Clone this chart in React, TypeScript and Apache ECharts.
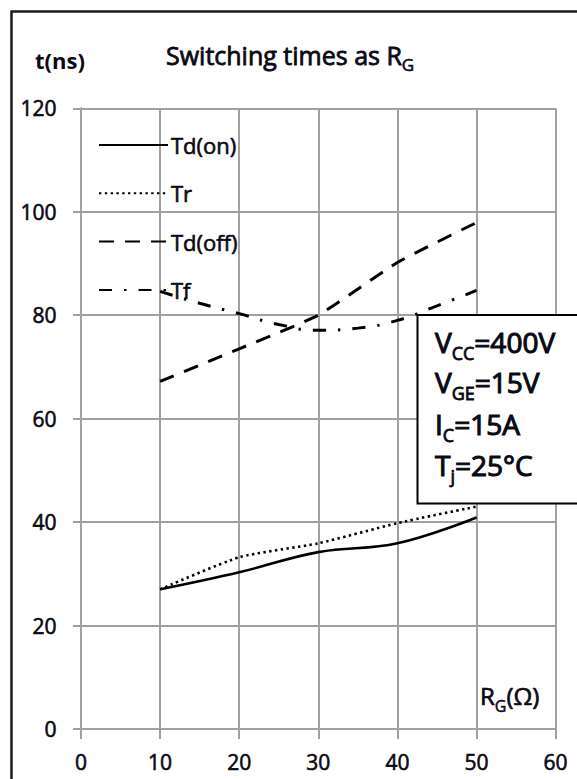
import React, { useEffect, useRef } from "react";
import * as echarts from "echarts";

// ---- data ----
const xTicks = [0, 10, 20, 30, 40, 50, 60];
const yTicks = [0, 20, 40, 60, 80, 100, 120];

const rgMain = [10, 20, 30, 40, 50];
const tdOnValues = [27, 30.3, 34.2, 35.9, 40.9];
const trValues = [27, 33.2, 35.9, 39.8, 43.0];
const tdOffValues = [67.2, 73.5, 80.0, 90.2, 97.9];

const rgTf = [10, 15, 20, 25, 30, 35, 40, 45, 50];
const tfValues = [84.6, 82.3, 80.3, 78.2, 77.1, 77.5, 79.0, 81.8, 84.8];

const seriesNames = ["Td(on)", "Tr", "Td(off)", "Tf"];
const conditionLines = [
  ["V", "CC", "=400V"],
  ["V", "GE", "=15V"],
  ["I", "C", "=15A"],
  ["T", "j", "=25°C"],
];

const FONT = '"Open Sans", "Noto Sans", sans-serif';
const INK = "#0a0a14";
const GRID = "#a0a0a0";
const HALO = 0.6;

function pairs(xs: number[], ys: number[]) {
  return xs.map((x, i) => [x, ys[i]]);
}

export default function App() {
  const ref = useRef<HTMLDivElement>(null);

  useEffect(() => {
    if (!ref.current) return;
    const chart = echarts.init(ref.current, null, { renderer: "svg" });

    const richMain = (size: number, lh: number, weight: any, halo: number) => {
      const s: any = { fontSize: size, fontFamily: FONT, fontWeight: weight, lineHeight: lh, fill: INK };
      if (halo > 0) {
        s.stroke = INK;
        s.lineWidth = halo;
      }
      return s;
    };
    const richSub = (size: number, lh: number, weight: any, halo: number) => {
      const s = richMain(size, lh, weight, halo);
      s.verticalAlign = "bottom";
      return s;
    };

    const condYs = [341.8, 381.8, 424, 465];

    const labelStyle = {
      fontSize: 21,
      fontFamily: FONT,
      color: INK,
      textBorderColor: INK,
      textBorderWidth: HALO,
    };

    const option: any = {
      animation: false,
      backgroundColor: "#fff",
      grid: { left: 81, top: 108.3, width: 474.6, height: 620.7, containLabel: false },
      xAxis: {
        type: "value",
        min: xTicks[0],
        max: xTicks[xTicks.length - 1],
        interval: 10,
        axisLine: { show: true, lineStyle: { color: GRID, width: 2 } },
        axisTick: { show: true, length: 10, lineStyle: { color: GRID, width: 2 } },
        splitLine: { show: true, lineStyle: { color: GRID, width: 2 } },
        axisLabel: { ...labelStyle, margin: 22, lineHeight: 21 },
      },
      yAxis: {
        type: "value",
        min: yTicks[0],
        max: yTicks[yTicks.length - 1],
        interval: 20,
        axisLine: { show: true, lineStyle: { color: GRID, width: 2 } },
        axisTick: { show: true, length: 8, lineStyle: { color: GRID, width: 2 } },
        splitLine: { show: true, lineStyle: { color: GRID, width: 2 } },
        axisLabel: { ...labelStyle, margin: 24.5 },
      },
      legend: {
        orient: "vertical",
        left: 98,
        top: 133,
        padding: 0,
        itemWidth: 69,
        itemHeight: 24,
        itemGap: 24.3,
        data: seriesNames,
        itemStyle: { opacity: 0 },
        textStyle: {
          fontSize: 22,
          fontFamily: FONT,
          color: INK,
          textBorderColor: INK,
          textBorderWidth: HALO,
          lineHeight: 24,
          padding: [0, 0, 0, -2],
        },
        selectedMode: false,
      },
      series: [
        {
          name: seriesNames[0],
          type: "line",
          data: pairs(rgMain, tdOnValues),
          symbol: "none",
          smooth: 0.4,
          lineStyle: { color: "#000", width: 2.6, type: "solid" },
          z: 3,
        },
        {
          name: seriesNames[1],
          type: "line",
          data: pairs(rgMain, trValues),
          symbol: "none",
          smooth: 0.2,
          lineStyle: { color: "#000", width: 2.6, type: [2.4, 3.4] },
          z: 3,
        },
        {
          name: seriesNames[2],
          type: "line",
          data: pairs(rgMain, tdOffValues),
          symbol: "none",
          smooth: 0.15,
          lineStyle: { color: "#000", width: 3, type: [15, 11] },
          z: 3,
        },
        {
          name: seriesNames[3],
          type: "line",
          data: pairs(rgTf, tfValues),
          symbol: "none",
          smooth: 0.5,
          lineStyle: { color: "#000", width: 3, type: [13, 12, 2.5, 12] },
          z: 3,
        },
      ],
      graphic: [
        {
          type: "rect",
          silent: true,
          z: 100,
          shape: { x: 11.5, y: 11.5, width: 700, height: 900 },
          style: { fill: "none", stroke: "#1a1a1a", lineWidth: 2.5 },
        },
        {
          type: "text",
          z: 100,
          x: 35,
          y: 60,
          style: {
            text: "t(ns)",
            fontSize: 22,
            fontFamily: FONT,
            fontWeight: "bold",
            fill: INK,
            verticalAlign: "middle",
            align: "left",
          },
        },
        {
          type: "text",
          z: 100,
          x: 166,
          y: 54.5,
          style: {
            text: "{m|Switching times as R}{s|G}",
            verticalAlign: "middle",
            align: "left",
            rich: { m: richMain(25, 36, "normal", 0.8), s: richSub(17, 17, "normal", 0.6) },
          },
        },
        {
          type: "text",
          z: 100,
          x: 480,
          y: 695.7,
          style: {
            text: "{m|R}{s|G}{m|(Ω)}",
            verticalAlign: "middle",
            align: "left",
            rich: { m: richMain(24, 36, "normal", 0.7), s: richSub(16, 18, "normal", 0.5) },
          },
        },
        {
          type: "rect",
          z: 100,
          shape: { x: 417.5, y: 315, width: 200, height: 188.5 },
          style: { fill: "#fff", stroke: "#000", lineWidth: 2 },
        },
        ...conditionLines.map((ln, i) => ({
          type: "text",
          z: 101,
          x: 435,
          y: condYs[i],
          style: {
            text: `{m|${ln[0]}}{s|${ln[1]}}{m|${ln[2]}}`,
            verticalAlign: "middle",
            align: "left",
            rich: { m: richMain(28, 40, "normal", 1.1), s: richSub(18, 22, "normal", 0.8) },
          },
        })),
      ],
    };

    chart.setOption(option);
    return () => chart.dispose();
  }, []);

  return (
    <div
      ref={ref}
      style={{ position: "fixed", left: 0, top: 0, width: 577, height: 779, background: "#fff" }}
    />
  );
}
